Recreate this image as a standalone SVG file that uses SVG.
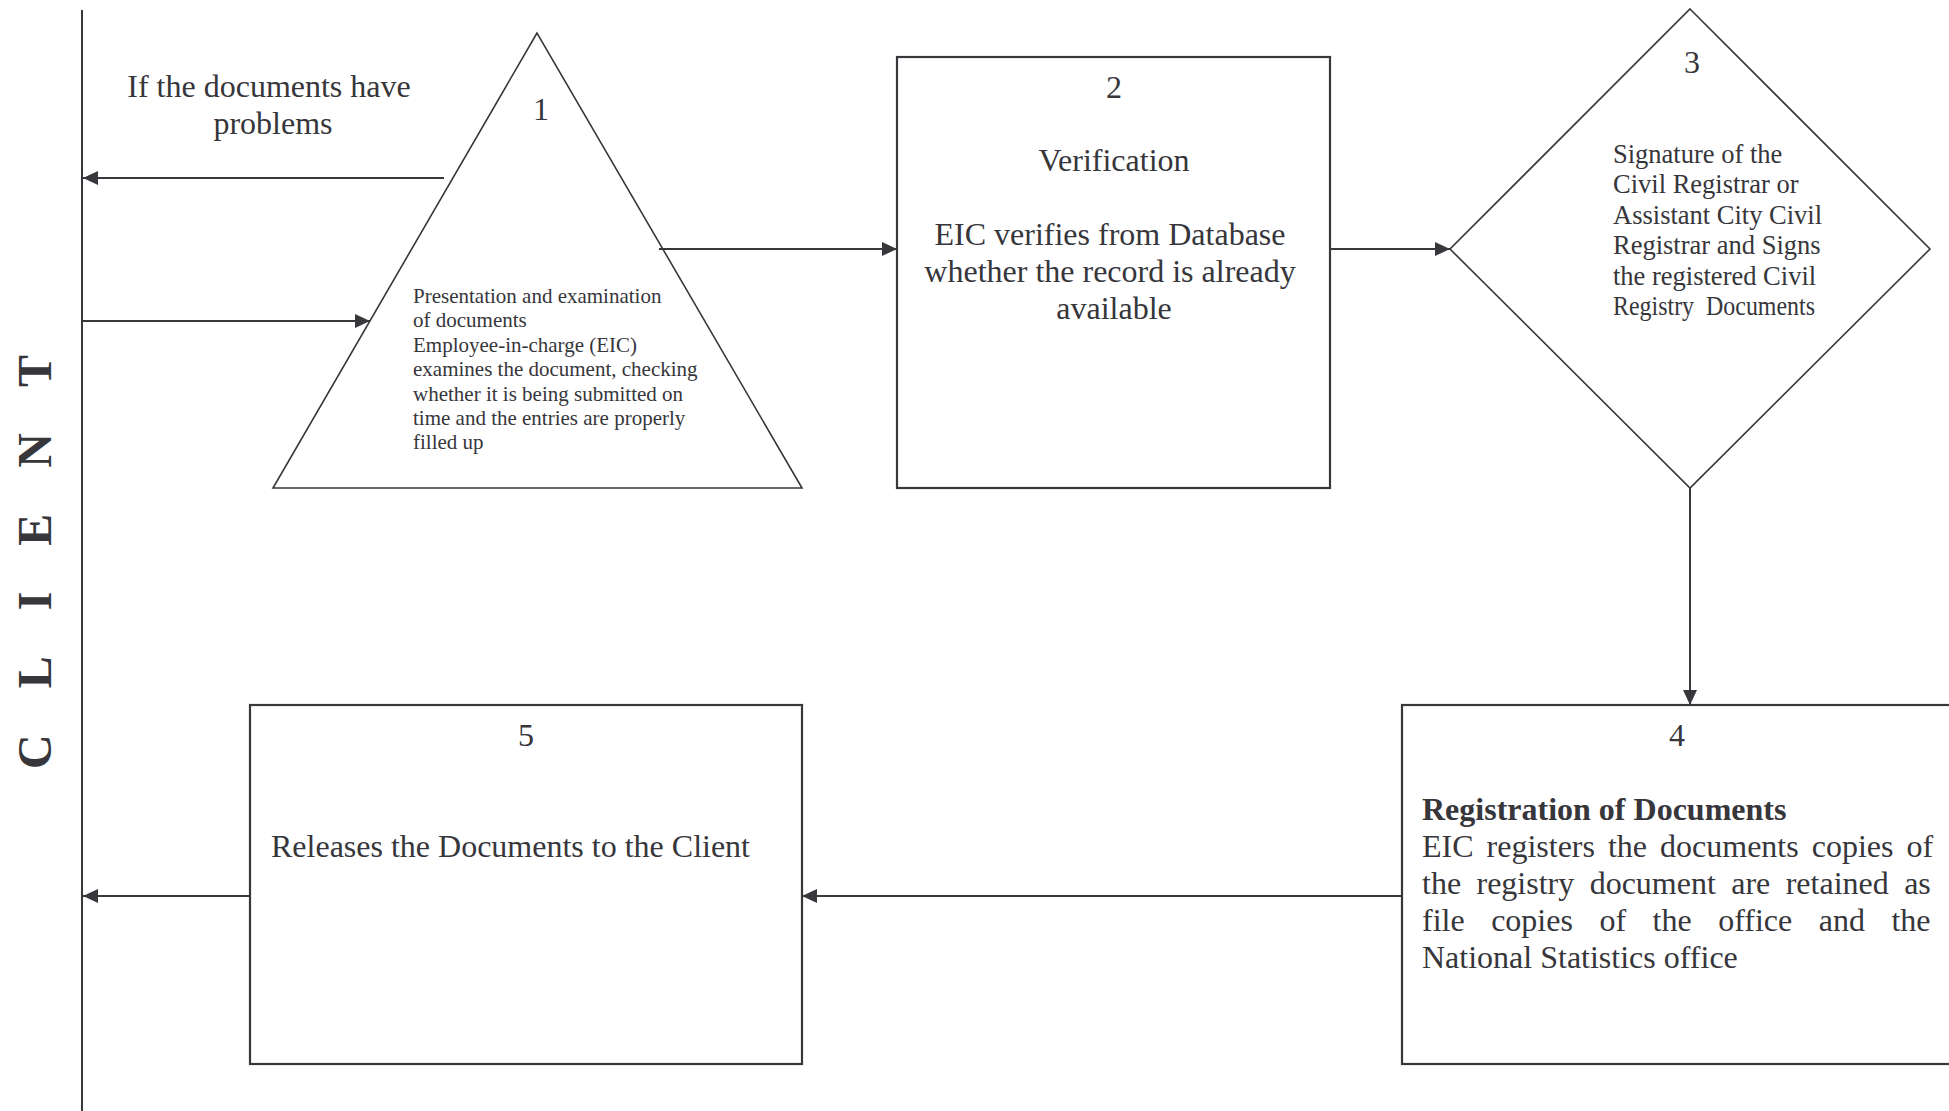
<svg xmlns="http://www.w3.org/2000/svg" width="1949" height="1111" viewBox="0 0 1949 1111">
<style>
.t{font-family:"Liberation Serif","Times New Roman",serif;fill:#36363b}
.s32{font-size:32px}
.s26{font-size:26.5px}
.s21{font-size:21px}
.shape{fill:#ffffff;stroke:#38383c;stroke-width:2.2}
.thin{fill:#ffffff;stroke:#38383c;stroke-width:1.6}
.conn{fill:none;stroke:#38383c;stroke-width:2}
</style>
<defs>
<marker id="arr" markerUnits="userSpaceOnUse" markerWidth="16" markerHeight="14" refX="15" refY="7" orient="auto">
<path d="M0,0 L15,7 L0,14 z" fill="#38383c"/>
</marker>
</defs>
<rect x="0" y="0" width="1949" height="1111" fill="#ffffff"/>

<g id="client-lane">
<line x1="82" y1="10" x2="82" y2="1111" stroke="#38383c" stroke-width="2"/>
<text class="t" transform="translate(51,769) rotate(-90)" font-size="48" font-weight="bold" letter-spacing="46">CLIENT</text>
</g>

<g id="node1">
<polygon class="thin" points="537,33 273,488 802,488"/>
<text class="t s32" x="541" y="120" text-anchor="middle">1</text>
<text class="t s21" x="413" y="303">
<tspan x="413" y="303">Presentation and examination</tspan>
<tspan x="413" y="327.4">of documents</tspan>
<tspan x="413" y="351.8">Employee-in-charge (EIC)</tspan>
<tspan x="413" y="376.2">examines the document, checking</tspan>
<tspan x="413" y="400.6">whether it is being submitted on</tspan>
<tspan x="413" y="425">time and the entries are properly</tspan>
<tspan x="413" y="449.4">filled up</tspan>
</text>
</g>

<g id="node2">
<rect class="shape" x="897" y="57" width="433" height="431"/>
<text class="t s32" x="1114" y="98" text-anchor="middle">2</text>
<text class="t s32" x="1114" y="171" text-anchor="middle">Verification</text>
<text class="t s32" text-anchor="middle">
<tspan x="1114" y="245">EIC verifies from Database</tspan>
<tspan x="1114" y="282">whether the record is already</tspan>
<tspan x="1114" y="319">available</tspan>
</text>
</g>

<g id="node3">
<polygon class="thin" points="1690,9 1930,249 1690,488 1450,249"/>
<text class="t s32" x="1692" y="73" text-anchor="middle">3</text>
<text class="t s26">
<tspan x="1613" y="163">Signature of the</tspan>
<tspan x="1613" y="193.4">Civil Registrar or</tspan>
<tspan x="1613" y="223.8">Assistant City Civil</tspan>
<tspan x="1613" y="254.2">Registrar and Signs</tspan>
<tspan x="1613" y="284.6">the registered Civil</tspan>
</text>
<text class="t s26" x="1613" y="315" textLength="202" lengthAdjust="spacingAndGlyphs" xml:space="preserve">Registry  Documents</text>
</g>

<g id="node4">
<rect class="shape" x="1402" y="705" width="600" height="359"/>
<text class="t s32" x="1677" y="746" text-anchor="middle">4</text>
<text class="t s32" x="1422" y="820" font-weight="bold">Registration of Documents</text>
<text class="t s32" x="1422" y="857" word-spacing="5">EIC registers the documents copies of</text>
<text class="t s32" x="1422" y="894" word-spacing="7.4">the registry document are retained as</text>
<text class="t s32" x="1422" y="931" word-spacing="18.5">file copies of the office and the</text>
<text class="t s32" x="1422" y="968">National Statistics office</text>
</g>

<g id="node5">
<rect class="shape" x="250" y="705" width="552" height="359"/>
<text class="t s32" x="526" y="746" text-anchor="middle">5</text>
<text class="t s32" x="271" y="857">Releases the Documents to the Client</text>
</g>

<g id="label-problems">
<text class="t s32" text-anchor="middle">
<tspan x="273" y="97">If the documents have</tspan>
<tspan x="273" y="134">problems</tspan>
</text>
</g>

<g id="connectors">
<line class="conn" x1="444" y1="178" x2="83" y2="178" marker-end="url(#arr)"/>
<line class="conn" x1="83" y1="321" x2="370" y2="321" marker-end="url(#arr)"/>
<line class="conn" x1="659" y1="249" x2="897" y2="249" marker-end="url(#arr)"/>
<line class="conn" x1="1330" y1="249" x2="1450" y2="249" marker-end="url(#arr)"/>
<line class="conn" x1="1690" y1="488" x2="1690" y2="705" marker-end="url(#arr)"/>
<line class="conn" x1="1402" y1="896" x2="802" y2="896" marker-end="url(#arr)"/>
<line class="conn" x1="250" y1="896" x2="83" y2="896" marker-end="url(#arr)"/>
</g>
</svg>
